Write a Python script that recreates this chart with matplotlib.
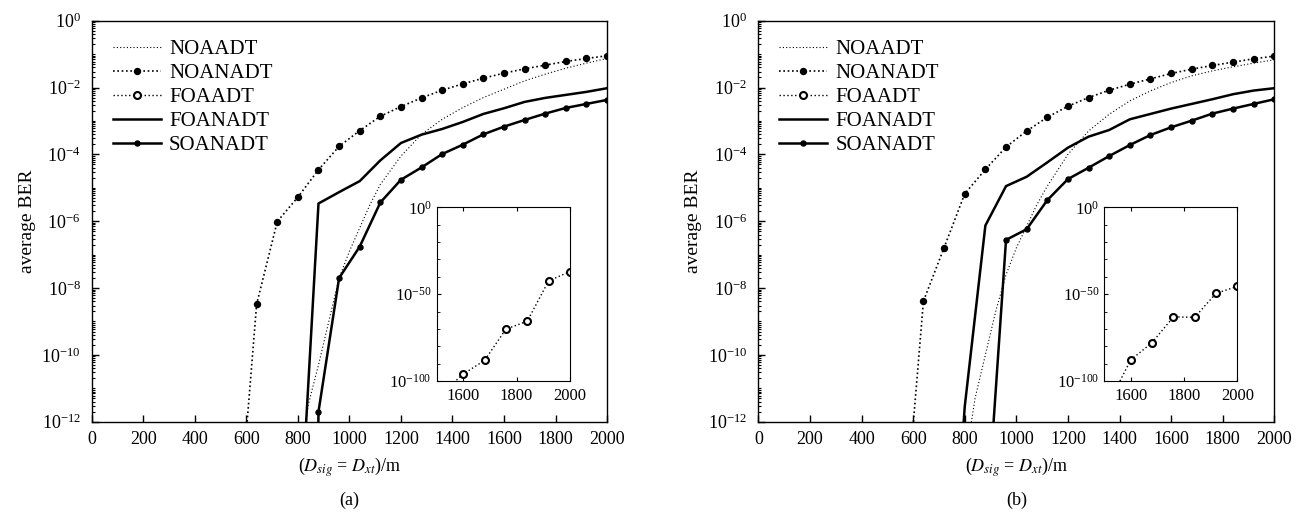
"""
Average BER against link distance, two scenarios (a) and (b), with insets.
"""

import numpy as np
import matplotlib
matplotlib.use("Agg")
import matplotlib.pyplot as plt
from matplotlib.ticker import LogLocator, LogFormatterMathtext, NullFormatter, FixedLocator

plt.rcParams["font.family"] = ["Liberation Serif", "DejaVu Serif"]
plt.rcParams["mathtext.fontset"] = "stix"

# values are log10(BER)
x_noaadt = [800, 840, 880, 920, 960, 1000, 1040, 1080, 1120, 1200, 1280,
            1360, 1440, 1520, 1600, 1680, 1760, 1840, 1920, 2000]
noaadt_a = [-13.5, -11.5, -10.3, -9.0, -7.7, -6.9, -6.2, -5.5, -4.9, -4.05, -3.4,
            -2.95, -2.6, -2.3, -2.05, -1.8, -1.6, -1.42, -1.27, -1.13]
noaadt_b = [-13.3, -11.3, -10.0, -8.7, -7.6, -6.8, -6.15, -5.5, -4.95, -4.0, -3.3,
            -2.8, -2.4, -2.1, -1.85, -1.65, -1.5, -1.38, -1.27, -1.17]

x_noanadt = list(range(560, 2001, 80))
noanadt_a = [-16.1, -8.48, -6.01, -5.28, -4.46, -3.76, -3.29, -2.86, -2.57, -2.31,
             -2.08, -1.89, -1.72, -1.57, -1.44, -1.33, -1.22, -1.13, -1.05]
noanadt_b = [-15.8, -8.39, -6.79, -5.18, -4.45, -3.78, -3.30, -2.89, -2.56, -2.30,
             -2.08, -1.90, -1.74, -1.58, -1.45, -1.34, -1.24, -1.14, -1.06]

x_foanadt_a = list(range(800, 2001, 80))
foanadt_a = [-16.4, -5.47, -5.13, -4.80, -4.18, -3.66, -3.41, -3.24, -3.03, -2.79,
             -2.62, -2.43, -2.31, -2.22, -2.13, -2.02]
x_foanadt_b = list(range(720, 2001, 80))
foanadt_b = [-20.5, -11.55, -6.13, -4.95, -4.67, -4.24, -3.80, -3.47, -3.27, -2.95,
             -2.79, -2.63, -2.49, -2.35, -2.20, -2.09, -2.02]

x_soanadt_a = list(range(800, 2001, 80))
soanadt_a = [-60.0, -11.7, -7.70, -6.76, -5.44, -4.76, -4.39, -3.99, -3.71, -3.40,
             -3.17, -2.97, -2.78, -2.61, -2.49, -2.37]
x_soanadt_b = list(range(880, 2001, 80))
soanadt_b = [-15.6, -6.56, -6.24, -5.37, -4.74, -4.40, -4.05, -3.72, -3.42, -3.19,
             -2.99, -2.78, -2.63, -2.49, -2.35]

# FOAADT only shows up in the insets
x_foaadt = [1520, 1600, 1680, 1760, 1840, 1920, 2000]
foaadt_a = [-107, -96, -88.1, -70.1, -65.6, -42.4, -37]
foaadt_b = [-112, -87.9, -77.9, -63.1, -63.3, -49.5, -45.5]

labels = ["NOAADT", "NOANADT", "FOAADT", "FOANADT", "SOANADT"]
panel_names = ["(a)", "(b)"]


def ber(logs):
    return 10.0 ** np.asarray(logs, dtype=float)


def draw_panel(fig, rect, inset_rect, curves, foaadt, name):
    """Main semilog axes plus the FOAADT inset."""
    ax = fig.add_axes(rect)
    noaadt, noanadt, (xf, foanadt), (xs, soanadt) = curves

    ax.plot(x_noaadt, ber(noaadt), color="black", lw=0.8, ls=(0, (1, 2)),
            label=labels[0])
    ax.plot(x_noanadt, ber(noanadt), color="black", lw=1.2, ls=(0, (1, 1.6)),
            marker="o", ms=4.3, mfc="black", mec="black", label=labels[1])
    # legend-only entry, its data sits far below this axis
    ax.plot(x_foaadt, ber(foaadt), color="black", lw=1.0, ls=(0, (1, 1.8)),
            marker="o", ms=5, mfc="white", mec="black", mew=1.5, label=labels[2])
    ax.plot(xf, ber(foanadt), color="black", lw=1.8, label=labels[3])
    ax.plot(xs, ber(soanadt), color="black", lw=1.8, marker="o", ms=3.6,
            label=labels[4])

    ax.set_yscale("log")
    ax.set_xlim(0, 2000)
    ax.set_ylim(1e-12, 1e0)
    ax.set_xticks(range(0, 2001, 200))
    ax.yaxis.set_major_locator(FixedLocator([10.0 ** k for k in range(-12, 1, 2)]))
    ax.yaxis.set_major_formatter(LogFormatterMathtext())
    ax.yaxis.set_minor_locator(LogLocator(base=10, subs=np.arange(1, 10), numticks=40))
    ax.yaxis.set_minor_formatter(NullFormatter())
    ax.tick_params(axis="both", which="major", direction="in", length=5,
                   width=1, labelsize=13, top=False, right=False)
    ax.tick_params(axis="y", which="minor", direction="in", length=2.5, width=0.8)
    ax.tick_params(axis="x", pad=7)
    ax.tick_params(axis="y", pad=8)
    for s in ax.spines.values():
        s.set_linewidth(1.0)

    ax.set_ylabel("average BER", fontsize=14, labelpad=4)
    ax.set_xlabel(r"($D_{sig}$ = $D_{xt}$)/m", fontsize=13, labelpad=5)
    ax.text(0.5, -0.175, name, transform=ax.transAxes, ha="center", va="top",
            fontsize=13)

    ax.legend(loc="upper left", bbox_to_anchor=(0.041, 0.953), frameon=False,
              fontsize=15, handlelength=2.3, handletextpad=0.4,
              labelspacing=0.21, borderaxespad=0, borderpad=0)

    ins = fig.add_axes(inset_rect)
    ins.plot(x_foaadt, ber(foaadt), color="black", lw=1.0, ls=(0, (1, 1.8)),
             marker="o", ms=5, mfc="white", mec="black", mew=1.5)
    ins.set_yscale("log")
    ins.set_xlim(1500, 2000)
    ins.set_ylim(1e-100, 1e0)
    ins.set_xticks([1600, 1800, 2000])
    ins.yaxis.set_major_locator(FixedLocator([1e-100, 1e-50, 1e0]))
    ins.yaxis.set_major_formatter(LogFormatterMathtext())
    ins.yaxis.set_minor_locator(FixedLocator([10.0 ** k for k in range(-90, 0, 10)]))
    ins.yaxis.set_minor_formatter(NullFormatter())
    ins.tick_params(axis="both", which="major", direction="in", length=3,
                    labelsize=12, top=True)
    ins.tick_params(axis="y", which="minor", direction="in", length=2)
    ins.tick_params(axis="x", pad=5)
    return ax


fig = plt.figure(figsize=(13.05, 5.2), dpi=100)

draw_panel(fig, [0.0703, 0.189, 0.3949, 0.7712], [0.3346, 0.2673, 0.1021, 0.334],
           (noaadt_a, noanadt_a, (x_foanadt_a, foanadt_a), (x_soanadt_a, soanadt_a)),
           foaadt_a, panel_names[0])
draw_panel(fig, [0.5811, 0.189, 0.3954, 0.7712], [0.846, 0.2673, 0.1022, 0.334],
           (noaadt_b, noanadt_b, (x_foanadt_b, foanadt_b), (x_soanadt_b, soanadt_b)),
           foaadt_b, panel_names[1])

fig.savefig("out.png", dpi=100)
